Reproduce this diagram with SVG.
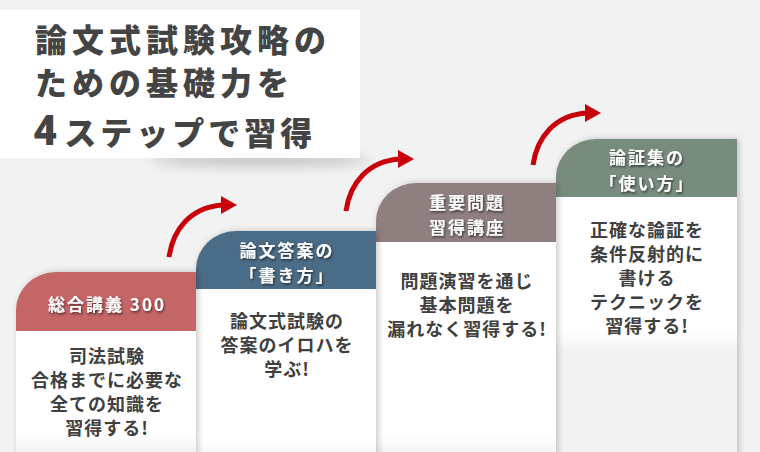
<svg xmlns="http://www.w3.org/2000/svg" width="760" height="452" viewBox="0 0 760 452">
<defs>
<style>
.ttl{font-family:"Noto Sans CJK JP","Noto Sans",sans-serif;font-weight:900;fill:#444;}
.hd{font-family:"Noto Sans CJK JP","Noto Sans",sans-serif;font-weight:700;font-size:17px;letter-spacing:2px;fill:#fff;text-anchor:middle;filter:url(#ts);}
.bd{font-family:"Noto Sans CJK JP","Noto Sans",sans-serif;font-weight:700;font-size:18px;letter-spacing:1px;fill:#404040;text-anchor:middle;}
.arr{fill:none;stroke:#c8000a;stroke-width:5;}
.ah{fill:#c8000a;}
</style>
<filter id="sh" x="-20%" y="-20%" width="140%" height="140%">
<feDropShadow dx="2" dy="0" stdDeviation="3" flood-color="#000" flood-opacity="0.22"/>
</filter>
<filter id="ts" x="-20%" y="-30%" width="140%" height="160%">
<feDropShadow dx="1" dy="1.5" stdDeviation="1" flood-color="#000" flood-opacity="0.6"/>
</filter>
<filter id="blur" x="-50%" y="-200%" width="200%" height="500%">
<feGaussianBlur stdDeviation="6"/>
</filter>
<linearGradient id="g1" gradientUnits="userSpaceOnUse" x1="0" y1="434" x2="0" y2="452">
<stop offset="0" stop-color="#fff"/><stop offset="1" stop-color="#f2f2f2"/>
</linearGradient>
<linearGradient id="g2" gradientUnits="userSpaceOnUse" x1="0" y1="440" x2="0" y2="470">
<stop offset="0" stop-color="#fff"/><stop offset="1" stop-color="#f2f2f2"/>
</linearGradient>
<linearGradient id="g3" gradientUnits="userSpaceOnUse" x1="0" y1="436" x2="0" y2="452">
<stop offset="0" stop-color="#fff"/><stop offset="1" stop-color="#f4f4f4"/>
</linearGradient>
<linearGradient id="g4" gradientUnits="userSpaceOnUse" x1="0" y1="330" x2="0" y2="352">
<stop offset="0" stop-color="#fff"/><stop offset="1" stop-color="#f2f2f2"/>
</linearGradient>
</defs>
<rect width="760" height="452" fill="#f2f2f2"/>

<g id="title">
<ellipse cx="260" cy="160" rx="110" ry="7" fill="#000" opacity="0.18" filter="url(#blur)"/>
<rect x="-4" y="10" width="364" height="148" fill="#fff"/>
<text class="ttl" x="35" y="52" font-size="32" letter-spacing="5">論文式試験攻略の</text>
<text class="ttl" x="35" y="95" font-size="32" letter-spacing="5">ための基礎力を</text>
<text class="ttl" x="33" y="145" font-size="32" letter-spacing="4"><tspan font-size="42" font-family="Roboto,'Noto Sans',sans-serif" font-weight="900">4</tspan><tspan dx="3">ステップで習得</tspan></text>
</g>

<g id="step4">
<g filter="url(#sh)">
<rect x="556" y="197" width="181" height="270" fill="url(#g4)"/>
<path d="M556,197 V177 A40,38 0 0 1 596,139 H737 V197 Z" fill="#788c7e"/>
</g>
<text class="hd" x="647" y="164">論証集の</text>
<text class="hd" x="647" y="190">「使い方」</text>
<text class="bd" x="647" y="237">正確な論証を</text>
<text class="bd" x="647" y="261">条件反射的に</text>
<text class="bd" x="647" y="285">書ける</text>
<text class="bd" x="647" y="309">テクニックを</text>
<text class="bd" x="647" y="333">習得する!</text>
</g>

<g id="step3">
<g filter="url(#sh)">
<rect x="376" y="242" width="180" height="225" fill="url(#g3)"/>
<path d="M376,242 V221 A40,38 0 0 1 416,183 H556 V242 Z" fill="#8f7f7e"/>
</g>
<text class="hd" x="467" y="209">重要問題</text>
<text class="hd" x="467" y="234">習得講座</text>
<text class="bd" x="467" y="288">問題演習を通じ</text>
<text class="bd" x="467" y="312">基本問題を</text>
<text class="bd" x="467" y="336">漏れなく習得する!</text>
</g>

<g id="step2">
<g filter="url(#sh)">
<rect x="196" y="289" width="180" height="178" fill="url(#g2)"/>
<path d="M196,289 V269 A40,38 0 0 1 236,231 H376 V289 Z" fill="#4b6c86"/>
</g>
<text class="hd" x="287" y="257">論文答案の</text>
<text class="hd" x="287" y="282">「書き方」</text>
<text class="bd" x="287" y="328">論文式試験の</text>
<text class="bd" x="287" y="352">答案のイロハを</text>
<text class="bd" x="287" y="376">学ぶ!</text>
</g>

<g id="step1">
<g filter="url(#sh)">
<rect x="16" y="331" width="180" height="136" fill="url(#g1)"/>
<path d="M16,331 V310 A40,38 0 0 1 56,272 H196 V331 Z" fill="#c46566"/>
</g>
<text class="hd" x="107" y="311" letter-spacing="1">総合講義 300</text>
<text class="bd" x="107" y="363">司法試験</text>
<text class="bd" x="107" y="387">合格までに必要な</text>
<text class="bd" x="107" y="411">全ての知識を</text>
<text class="bd" x="107" y="435">習得する!</text>
</g>

<g id="connectors">
<g transform="translate(169,257)"><path class="arr" d="M0,0 C4,-28 22,-50 54,-52"/><polygon class="ah" points="52,-61 68,-52 52,-43"/></g>
<g transform="translate(346,211)"><path class="arr" d="M0,0 C4,-28 22,-50 54,-52"/><polygon class="ah" points="52,-61 68,-52 52,-43"/></g>
<g transform="translate(533,165)"><path class="arr" d="M0,0 C4,-28 22,-50 54,-52"/><polygon class="ah" points="52,-61 68,-52 52,-43"/></g>
</g>
</svg>
